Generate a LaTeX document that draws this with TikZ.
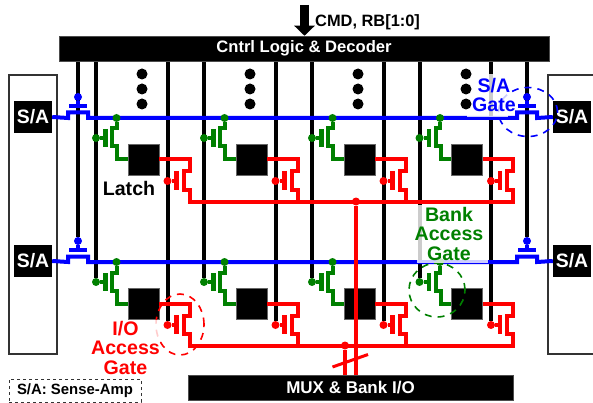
\documentclass[tikz,border=0pt]{standalone}
\usepackage{fontspec}
\setmainfont{Liberation Sans}
\usetikzlibrary{arrows.meta,backgrounds,shapes.geometric}
\definecolor{sablue}{RGB}{0,0,255}
\definecolor{bkgreen}{RGB}{0,128,0}
\definecolor{iored}{RGB}{255,0,0}
\begin{document}
\begin{tikzpicture}[x=1pt,y=-1pt,font=\bfseries,
      bar/.style={draw=black!70,line width=.5pt,fill=black,text=white,inner sep=0pt,minimum height=25pt,font=\bfseries\fontsize{16.6}{18}\selectfont},
      sabox/.style={draw=black!80,line width=1.2pt,fill=white,minimum width=48pt,minimum height=279pt,inner sep=0pt},
      sa/.style={fill=black,text=white,inner sep=0pt,minimum width=38pt,minimum height=32pt,font=\bfseries\fontsize{19.4}{20}\selectfont},
      latch/.style={draw=black!60,line width=.4pt,fill=black,inner sep=0pt,minimum size=31pt},
      bit/.style={line width=4pt,black},
      wire/.style={line width=4pt},
      plate/.style={line width=4.5pt},
      jdot/.style={circle,fill,inner sep=0pt,minimum size=8pt},
      vdot/.style={circle,fill=black,inner sep=0pt,minimum size=11pt},
      fade/.style={fill=white,fill opacity=.8},
      gatering/.style={ellipse,draw,dashed,dash pattern=on 7pt off 6pt,line width=1.6pt,inner sep=0pt},
      callout/.style={align=center,inner sep=0pt,font=\bfseries\fontsize{19.6}{19.5}\selectfont}]
      \useasboundingbox (0,0) rectangle (593,403);
      \node[bar,minimum width=490pt] (ctl) at (304,48.5) {Cntrl Logic \& Decoder};
      \node[bar,minimum width=325pt,font=\bfseries\fontsize{17}{18}\selectfont] (mux) at (350.5,387.5) {MUX \& Bank I/O};
      \node[sabox] (boxl) at (33,214.5) {};
      \node[sabox] (boxr) at (572,214.5) {};
      \coordinate (cmd) at (304.5,5);
      \draw[-{Triangle[width=20pt,length=10pt]},line width=9pt] (cmd) -- (cmd |- ctl.north);
      \node[anchor=west,inner sep=0pt,font=\bfseries\fontsize{16.4}{18}\selectfont] (cmdlab) at (315,22) {CMD, RB[1:0]};
      % two rows of sense-amps, gates and cells
      \foreach \r/\ybl in {a/118,b/262} {
        \node[sa] (sal\r) at (33,\ybl-1) {S/A};
        \node[sa] (sar\r) at (572,\ybl-1) {S/A};
        \begin{scope}[shift={(78,\ybl)}]
          \node[jdot,sablue] (gtl\r) at (0,-21) {};
          \node[jdot,sablue] (gtr\r) at (449,-21) {};
          \draw[wire,sablue] (sal\r.east) -- (-10,0) -- (-10,-5.5) -- (10,-5.5) -- (10,0)
            -- (439,0) -- (439,-5.5) -- (459,-5.5) -- (459,0) -- (sar\r.west);
          \draw[plate,sablue] (-9,-12) -- (9,-12);
          \draw[plate,sablue] (440,-12) -- (458,-12);
          \draw[wire,sablue] (gtl\r) -- (0,-12);
          \draw[wire,sablue] (gtr\r) -- (449,-12);
        \end{scope}
        \foreach \c/\xbl in {p/96,q/204,s/312,t/419.5} {
          \begin{scope}[shift={(\xbl,\ybl)}]
            \node[latch] (lat\r\c) at (47.5,41.5) {};
            \node[jdot,bkgreen] (dr\r\c) at (20.5,0) {};
            \node[jdot,bkgreen] (wl\r\c) at (0,20) {};
            \node[jdot,iored] (io\r\c) at (71.5,63) {};
            \coordinate (tl\r\c) at (93.5,83.5);
            \draw[wire,bkgreen] (dr\r\c) -- (20.5,10.5) -- (16,10.5) -- (16,28.5) -- (21,28.5) -- (21,41.5) -- (lat\r\c.west);
            \draw[plate,bkgreen] (9.5,11) -- (9.5,29);
            \draw[wire,bkgreen] (wl\r\c) -- (9.5,20);
            \draw[wire,iored] (lat\r\c.east) -- (93.5,41.5) -- (93.5,53.5) -- (87.5,53.5) -- (87.5,72) -- (93.5,72) -- (tl\r\c);
            \draw[plate,iored] (80.5,53) -- (80.5,72);
            \draw[wire,iored] (io\r\c) -- (80.5,63);
          \end{scope}
        }
        \draw[wire,iored,line cap=rect] (tl\r p) -- (tl\r t);
      }
      \begin{scope}[on background layer]
        \foreach \c in {p,q,s,t} {
          \draw[bit] (ctl.south -| wlb\c) -- (wlb\c);
          \draw[bit] (ctl.south -| iob\c) -- (iob\c);
        }
        \draw[bit] (ctl.south -| gtlb) -- (gtlb);
        \draw[bit] (ctl.south -| gtrb) -- (gtrb);
      \end{scope}
      \node[jdot,iored] (rail0) at (356,201.5) {};
      \node[jdot,iored] (rail1) at (345,345.5) {};
      \draw[wire,iored] (rail0) -- (rail0 |- mux.north);
      \draw[wire,iored] (rail1) -- (rail1 |- mux.north);
      \coordinate (sl0) at (332.5,367);
      \coordinate (sl1) at (368,354.5);
      \draw[line width=3pt,iored] (sl0) -- (sl1);
      \node[gatering,sablue,minimum width=59pt,minimum height=49pt] (ringsa) at (528,112) {};
      \node[gatering,bkgreen,minimum width=56pt,minimum height=54pt] (ringbk) at (437,290) {};
      \node[gatering,iored,minimum width=48pt,minimum height=61pt] (ringio) at (180,324.5) {};
      % pale patches behind the call-outs
      \fill[fade] (467,74) rectangle (508,117.5);
      \fill[fade] (417,205) rectangle (488,263);
      \fill[fade] (91,320) rectangle (160,376);
      \node[callout,text=sablue] (labsa) at (494,95) {S/A\\Gate};
      \node[callout,text=bkgreen] (labbk) at (449,233.5) {Bank\\Access\\Gate};
      \node[callout,text=iored] (labio) at (125.5,347.5) {I/O\\Access\\Gate};
      \node[inner sep=0pt,font=\bfseries\fontsize{19.6}{20}\selectfont] (lablatch) at (129,188) {Latch};
      \foreach \x/\n in {142/a,250/b,358/c,466/d} {
        \node[vdot] (v\n0) at (\x,74) {};
        \node[vdot] (v\n1) at (\x,89) {};
        \node[vdot] (v\n2) at (\x,104) {};
      }
      \node[draw=black!80,dashed,line width=1pt,minimum width=132pt,minimum height=23pt,inner sep=0pt,font=\bfseries\fontsize{14.9}{16}\selectfont] (legend) at (75,390.5) {S/A: Sense-Amp};
    \end{tikzpicture}
\end{document}
